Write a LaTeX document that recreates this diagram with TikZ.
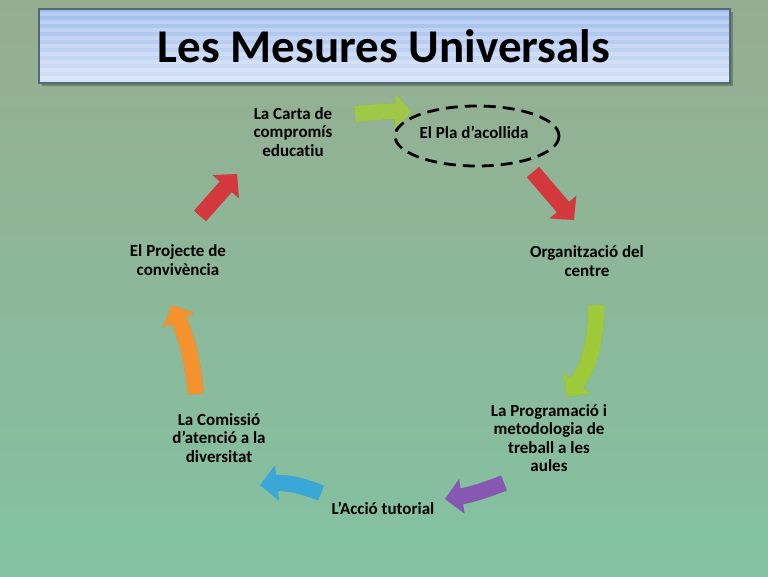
\documentclass[tikz,border=0pt]{standalone}
\usepackage{fontspec}
\setmainfont{Carlito}[RawFeature=-liga]
\usetikzlibrary{arrows.meta,shadows}
\definecolor{bgtop}{RGB}{150,173,145}
\definecolor{bgbot}{RGB}{131,194,162}
\definecolor{titletop}{RGB}{160,188,236}
\definecolor{titlebot}{RGB}{214,226,248}
\definecolor{titleborder}{RGB}{84,104,118}
\definecolor{cgreen}{RGB}{160,200,72}
\definecolor{cred}{RGB}{210,56,60}
\definecolor{cgreenyel}{RGB}{158,202,58}
\definecolor{cpurple}{RGB}{134,88,178}
\definecolor{cblue}{RGB}{58,168,214}
\definecolor{corange}{RGB}{244,146,48}
\tikzset{
  lbl/.style={font=\fontsize{17}{18.5}\selectfont\bfseries, align=center, text=black, inner sep=0pt},
  blockarrow/.style={line width=16pt, -{Triangle[width=34pt,length=17pt]}, draw=#1},
  arrowshadow/.style={line width=16pt, -{Triangle[width=34pt,length=17pt]}, draw=black, opacity=0.12},
}
\begin{document}
\begin{tikzpicture}[x=1pt,y=-1pt]
\useasboundingbox (0,0) rectangle (768,576);
\shade[top color=bgtop, bottom color=bgbot] (0,0) rectangle (768,576);
% title box
\fill[black,opacity=0.25] (42,12) rectangle (733,86);
\shade[top color=titletop, bottom color=titlebot] (39,9) rectangle (730,83);
\foreach \yy in {12,20,28,36,44,52,60,68,76} {
  \fill[white,opacity=0.22] (39,\yy) rectangle (730,\yy+3.5);
}
\draw[titleborder, line width=1.3pt] (39,9) rectangle (730,83);
\node[font=\fontsize{47}{52}\selectfont\bfseries, inner sep=0pt] (title) at (384,46) {Les Mesures Universals};
% labels
\node[lbl] (carta) at (293,132) {La Carta de\\compromís\\educatiu};
\node[lbl] (pla) at (474,132) {El Pla d’acollida};
\node[lbl] (org) at (587,261) {Organització del\\centre};
\node[lbl] (prog) at (549,438) {La Programació i\\metodologia de\\treball a les\\aules};
\node[lbl] (accio) at (383,508) {L’Acció tutorial};
\node[lbl] (comissio) at (219,438) {La Comissió\\d’atenció a la\\diversitat};
\node[lbl] (projecte) at (178,260) {El Projecte de\\convivència};
% dashed ellipse
\draw[black, line width=2.8pt, dash pattern=on 12pt off 7pt] (477,136) ellipse [x radius=82, y radius=30];
% arrow coordinates
\coordinate (a1s) at (355,114); \coordinate (a1e) at (412,112);
\coordinate (a2s) at (533,172); \coordinate (a2e) at (574,220);
\coordinate (a3s) at (596,305); \coordinate (a3e) at (567,397);
\coordinate (a4s) at (504,483); \coordinate (a4e) at (445,499);
\coordinate (a5s) at (321,493); \coordinate (a5e) at (260,485);
\coordinate (a6s) at (196,394); \coordinate (a6e) at (172,305);
\coordinate (a7s) at (200,216); \coordinate (a7e) at (237,174);
% shadows
\begin{scope}[shift={(2,3)}]
\draw[arrowshadow] (a1s) to[bend left=4] (a1e);
\draw[arrowshadow] (a2s) -- (a2e);
\draw[arrowshadow] (a3s) to[bend left=18] (a3e);
\draw[arrowshadow] (a4s) to[bend left=6] (a4e);
\draw[arrowshadow] (a5s) to[bend right=14] (a5e);
\draw[arrowshadow] (a6s) to[bend right=9] (a6e);
\draw[arrowshadow] (a7s) -- (a7e);
\end{scope}
% arrows
\draw[blockarrow=cgreen] (a1s) to[bend left=4] (a1e);
\draw[blockarrow=cred] (a2s) -- (a2e);
\draw[blockarrow=cgreenyel] (a3s) to[bend left=18] (a3e);
\draw[blockarrow=cpurple] (a4s) to[bend left=6] (a4e);
\draw[blockarrow=cblue] (a5s) to[bend right=14] (a5e);
\draw[blockarrow=corange] (a6s) to[bend right=9] (a6e);
\draw[blockarrow=cred] (a7s) -- (a7e);
\end{tikzpicture}
\end{document}
